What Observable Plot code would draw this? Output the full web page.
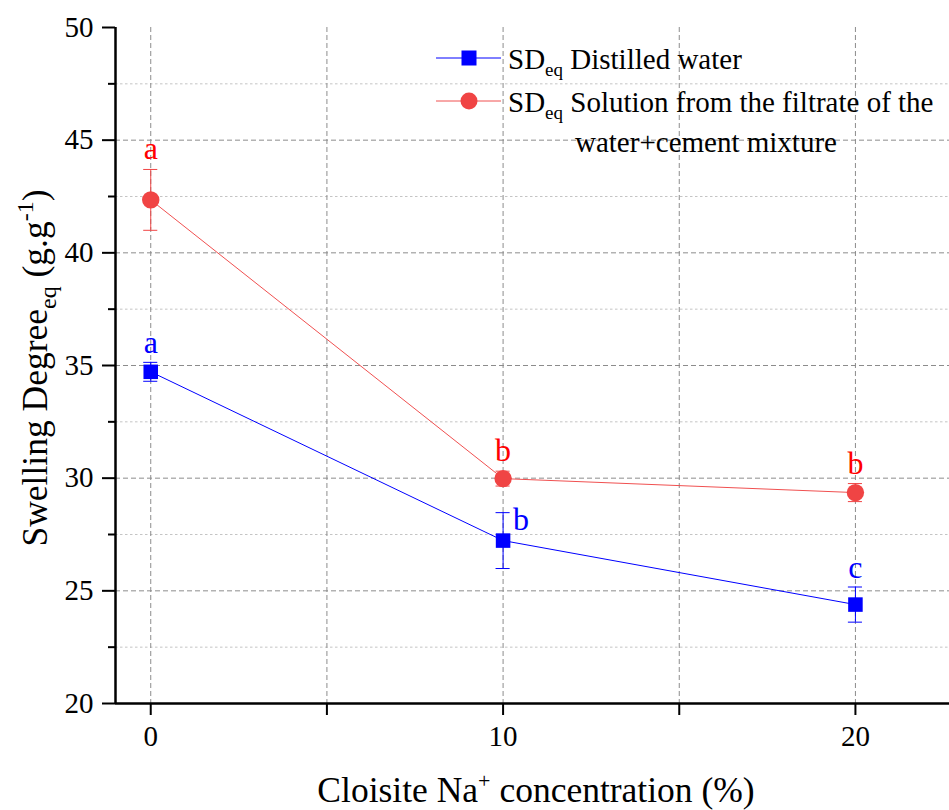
<!DOCTYPE html>
<html><head><meta charset="utf-8">
<script src="https://cdn.jsdelivr.net/npm/d3@7"></script>
<script src="https://cdn.jsdelivr.net/npm/@observablehq/plot@0.6"></script>
<style>body{margin:0;background:#fff}</style>
</head><body><div id="chart"></div>
<script>
const concentration = [0, 10, 20];
const distilledSD = [34.72, 27.23, 24.39];
const distilledErr = [0.42, 1.24, 0.78];
const filtrateSD = [42.35, 29.98, 29.36];
const filtrateErr = [1.35, 0.33, 0.40];
const distilledLetters = ["a", "b", "c"];
const filtrateLetters = ["a", "b", "b"];
const yMajorTicks = [20, 25, 30, 35, 40, 45, 50];
const yMinorTicks = [22.5, 27.5, 32.5, 37.5, 42.5, 47.5];
const xTicks = [0, 5, 10, 15, 20];
const xTickLabels = [0, 10, 20];

const BLUE = "#0000ff", RED = "#f04444";
const distilled = concentration.map((x, i) => ({x, y: distilledSD[i], e: distilledErr[i], t: distilledLetters[i]}));
const filtrate = concentration.map((x, i) => ({x, y: filtrateSD[i], e: filtrateErr[i], t: filtrateLetters[i]}));
const cap = 0.2;

function errMarks(data, color) {
  return [
    Plot.ruleX(data, {x: "x", y1: d => d.y - d.e, y2: d => d.y + d.e, stroke: color, strokeWidth: 1}),
    Plot.ruleY(data, {y: d => d.y + d.e, x1: d => d.x - cap, x2: d => d.x + cap, stroke: color, strokeWidth: 1}),
    Plot.ruleY(data, {y: d => d.y - d.e, x1: d => d.x - cap, x2: d => d.x + cap, stroke: color, strokeWidth: 1})
  ];
}

const plot = Plot.plot({
  width: 949,
  height: 810,
  marginLeft: 115,
  marginTop: 27,
  marginBottom: 107,
  marginRight: 0,
  style: {fontFamily: "'Liberation Serif', 'Times New Roman', serif", fontSize: "28px", background: "#fff"},
  x: {domain: [-1, 22.67], label: null},
  y: {domain: [20, 50], label: null},
  marks: [
    Plot.ruleY(yMinorTicks, {stroke: "#c4c4c4", strokeDasharray: "2.5,2.5", strokeWidth: 1}),
    Plot.ruleY(yMajorTicks.filter(v => v > 20 && v < 50), {stroke: "#8c8c8c", strokeDasharray: "5,3", strokeWidth: 1}),
    Plot.ruleX(xTicks, {stroke: "#8c8c8c", strokeDasharray: "5,3", strokeWidth: 1}),
    Plot.line(distilled, {x: "x", y: "y", stroke: BLUE, strokeWidth: 1}),
    Plot.line(filtrate, {x: "x", y: "y", stroke: "#f05050", strokeWidth: 1}),
    ...errMarks(distilled, BLUE),
    ...errMarks(filtrate, RED),
    Plot.dot(distilled, {x: "x", y: "y", symbol: "square", r: 8.2, fill: BLUE, stroke: "none"}),
    Plot.dot(filtrate, {x: "x", y: "y", symbol: "circle", r: 8.7, fill: RED, stroke: "none"}),
    Plot.text(filtrate, {x: "x", y: d => d.y + d.e, text: "t", fill: "#ff0000", fontSize: 32, lineAnchor: "bottom", dy: -10}),
    Plot.text(distilled.filter(d => d.x !== 10), {x: "x", y: d => d.y + d.e, text: "t", fill: BLUE, fontSize: 32, lineAnchor: "bottom", dy: -9}),
    Plot.text(distilled.filter(d => d.x === 10), {x: "x", y: d => d.y + d.e, text: "t", fill: BLUE, fontSize: 32, lineAnchor: "middle", dx: 18, dy: 7}),
    Plot.axisY(yMajorTicks, {tickSize: 13, tickFormat: () => "", strokeWidth: 2, color: "#000"}),
    Plot.axisY(yMinorTicks, {tickSize: 7, tickFormat: () => "", strokeWidth: 2}),
    Plot.axisX(xTicks, {tickSize: 12, tickFormat: () => "", strokeWidth: 2}),
    Plot.text(yMajorTicks, {y: d => d, text: d => String(d), frameAnchor: "left", textAnchor: "end", lineAnchor: "middle", dx: -22, fontSize: 29, fill: "#000"}),
    Plot.text(xTickLabels, {x: d => d, text: d => String(d), frameAnchor: "bottom", lineAnchor: "top", dy: 22, fontSize: 29, fill: "#000"}),
    Plot.ruleX([-1], {y1: 20, y2: 50, stroke: "#000", strokeWidth: 2.5}),
    Plot.ruleY([20], {stroke: "#000", strokeWidth: 2.5})
  ]
});

const svg = d3.select(plot);
const serif = "'Liberation Serif', 'Times New Roman', serif";

// Y axis title
const yt = svg.append("text")
  .attr("transform", "translate(47,368) rotate(-90)")
  .attr("text-anchor", "middle")
  .attr("font-family", serif).attr("font-size", 35.5).attr("fill", "#000");
yt.append("tspan").text("Swelling Degree");
yt.append("tspan").attr("font-size", 24).attr("dy", 9).text("eq");
yt.append("tspan").attr("dy", -9).text(" (g.g");
yt.append("tspan").attr("font-size", 24).attr("dy", -14).text("-1");
yt.append("tspan").attr("dy", 14).text(")");

// X axis title
const xt = svg.append("text")
  .attr("x", 536).attr("y", 802)
  .attr("text-anchor", "middle")
  .attr("font-family", serif).attr("font-size", 35.5).attr("fill", "#000");
xt.append("tspan").text("Cloisite Na");
xt.append("tspan").attr("font-size", 22).attr("dy", -14).text("+");
xt.append("tspan").attr("dy", 14).text(" concentration (%)");

// Legend
const lg = svg.append("g").attr("font-family", serif).attr("font-size", 29).attr("fill", "#000").attr("text-anchor", "start");
lg.append("line").attr("x1", 436).attr("x2", 501).attr("y1", 58).attr("y2", 58).attr("stroke", BLUE).attr("stroke-width", 1);
lg.append("rect").attr("x", 461.5).attr("y", 50.5).attr("width", 15).attr("height", 15).attr("fill", BLUE);
lg.append("line").attr("x1", 436).attr("x2", 501).attr("y1", 101).attr("y2", 101).attr("stroke", "#f05050").attr("stroke-width", 1);
lg.append("circle").attr("cx", 469).attr("cy", 101).attr("r", 8.5).attr("fill", RED);
const l1 = lg.append("text").attr("x", 508).attr("y", 69);
l1.append("tspan").text("SD");
l1.append("tspan").attr("font-size", 19).attr("dy", 7).text("eq");
l1.append("tspan").attr("dy", -7).text(" Distilled water");
const l2 = lg.append("text").attr("x", 508).attr("y", 112);
l2.append("tspan").text("SD");
l2.append("tspan").attr("font-size", 19).attr("dy", 7).text("eq");
l2.append("tspan").attr("dy", -7).text(" Solution from the filtrate of the");
lg.append("text").attr("x", 575).attr("y", 152).text("water+cement mixture");

document.getElementById("chart").appendChild(plot);
</script>
</body></html>
